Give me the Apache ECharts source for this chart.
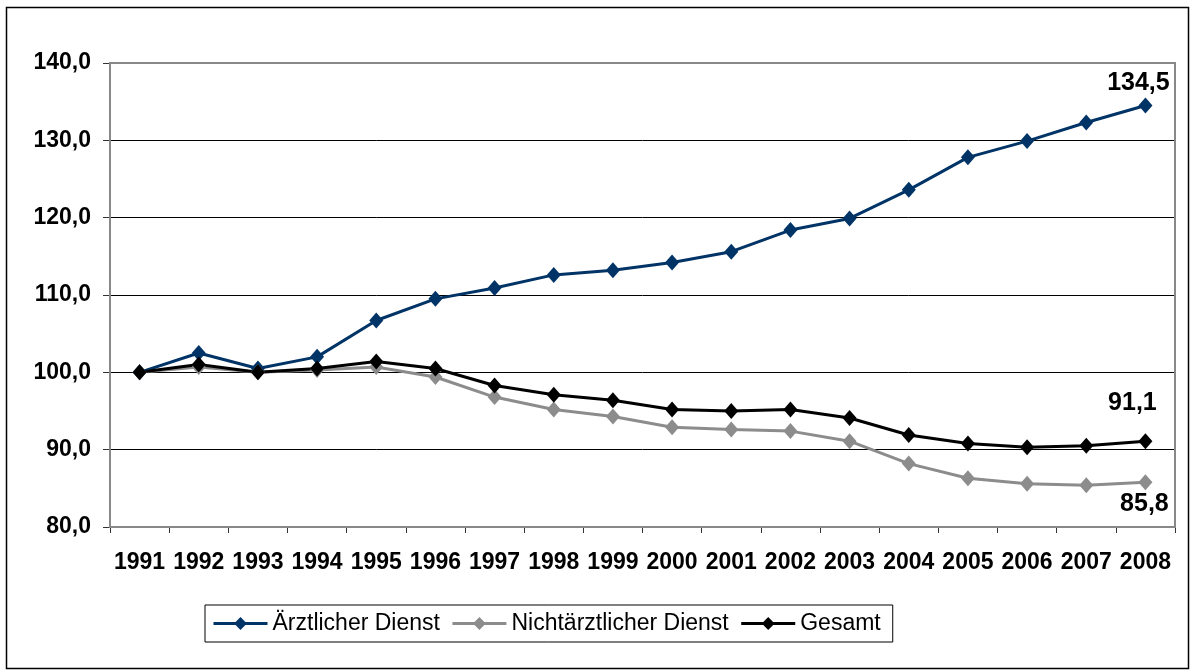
<!DOCTYPE html>
<html>
<head>
<meta charset="utf-8">
<script src="https://cdn.jsdelivr.net/npm/echarts@6/dist/echarts.min.js"></script>
<style>
html,body{margin:0;padding:0;background:#fff;}
#chart{width:1190px;height:670px;}
</style>
</head>
<body>
<div id="chart"></div>
<script>
const years = ['1991','1992','1993','1994','1995','1996','1997','1998','1999','2000','2001','2002','2003','2004','2005','2006','2007','2008'];
const aerztlich = [100.0,102.5,100.5,102.0,106.7,109.5,110.9,112.6,113.2,114.2,115.6,118.4,119.9,123.6,127.8,129.9,132.3,134.5];
const nichtaerztlich = [100.0,100.7,100.0,100.3,100.7,99.4,96.8,95.2,94.3,92.9,92.6,92.4,91.1,88.2,86.3,85.6,85.4,85.8];
const gesamt = [100.0,101.0,100.0,100.5,101.4,100.5,98.3,97.1,96.4,95.2,95.0,95.2,94.1,91.9,90.8,90.3,90.5,91.1];
const seriesNames = ['Ärztlicher Dienst','Nichtärztlicher Dienst','Gesamt'];

const fmt = v => v.toFixed(1).replace('.', ',');
const FONT = '"Liberation Sans", Arial, sans-serif';

function lastLabel(arr, labelOpt) {
  return arr.map((v, i) => i === arr.length - 1
    ? { value: v, label: Object.assign({ show: true, formatter: p => fmt(p.value), fontFamily: FONT, fontWeight: 'bold', fontSize: 25, color: '#000' }, labelOpt) }
    : v);
}

function makeSeries(name, data, color, labelOpt) {
  return {
    name: name,
    type: 'line',
    data: lastLabel(data, labelOpt),
    symbol: 'diamond',
    symbolSize: [14, 16],
    lineStyle: { color: color, width: 3 },
    itemStyle: { color: color },
    emphasis: { disabled: true },
    animation: false
  };
}

const chart = echarts.init(document.getElementById('chart'));
chart.setOption({
  backgroundColor: '#fff',
  animation: false,
  graphic: [{
    type: 'rect',
    shape: { x: 6.5, y: 7.5, width: 1182, height: 661 },
    style: { fill: 'none', stroke: '#000', lineWidth: 1.5 },
    silent: true, z: 0
  }, {
    type: 'rect',
    shape: { x: 110, y: 63, width: 1065, height: 464 },
    style: { fill: 'none', stroke: '#888', lineWidth: 2 },
    silent: true, z: 1
  }],
  grid: { left: 110, right: 15, top: 63, bottom: 143, containLabel: false },
  legend: {
    data: seriesNames,
    left: 205,
    top: 605,
    orient: 'horizontal',
    itemWidth: 54,
    itemHeight: 16,
    itemGap: 11,
    padding: [7, 12, 7, 7],
    borderColor: '#000',
    borderWidth: 1,
    lineStyle: { width: 3 },
    textStyle: { fontFamily: FONT, fontSize: 23, color: '#000' }
  },
  xAxis: {
    type: 'category',
    data: years,
    boundaryGap: true,
    axisLine: { lineStyle: { color: '#333', width: 1.5 } },
    axisTick: { show: true, length: 6, lineStyle: { color: '#333' } },
    axisLabel: { fontFamily: FONT, fontWeight: 'bold', fontSize: 23, color: '#000', margin: 24, interval: 0 },
    splitLine: { show: false }
  },
  yAxis: {
    type: 'value',
    min: 80, max: 140, interval: 10,
    axisLine: { show: true, lineStyle: { color: '#333', width: 1.5 } },
    axisTick: { show: true, length: 7, lineStyle: { color: '#333' } },
    axisLabel: { fontFamily: FONT, fontWeight: 'bold', fontSize: 23, color: '#000', margin: 19, formatter: v => fmt(v) },
    splitLine: { show: true, lineStyle: { color: '#000', width: 1 } }
  },
  series: [
    makeSeries(seriesNames[0], aerztlich, '#003366', { position: 'top', distance: 2, offset: [-7, 0] }),
    makeSeries(seriesNames[1], nichtaerztlich, '#8c8c8c', { position: 'bottom', distance: 1, offset: [-1, 0] }),
    makeSeries(seriesNames[2], gesamt, '#000000', { position: 'top', distance: 18, offset: [-13, 0] })
  ]
});
</script>
</body>
</html>
